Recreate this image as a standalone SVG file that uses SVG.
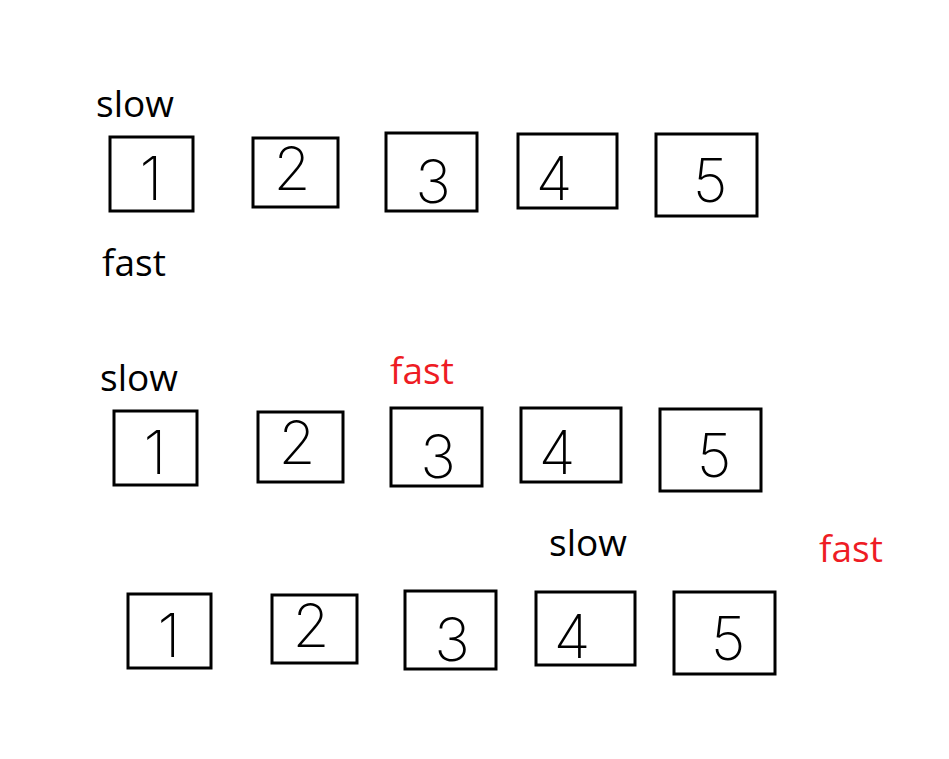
<svg xmlns="http://www.w3.org/2000/svg" width="949" height="759" viewBox="0 0 949 759">
<style>
.box{fill:none;stroke:#000;stroke-width:3}
.dig{font-family:Inter,"Liberation Sans",sans-serif;font-weight:200;font-size:60px;fill:#000;text-anchor:middle}
.lbl{font-family:"Open Sans","Noto Sans","Liberation Sans",sans-serif;font-size:37px;fill:#000}
.red{fill:#ee1c24}
</style>
<rect width="949" height="759" fill="#fff"/>
<g id="labels">
<text class="lbl" x="96" y="117">slow</text>
<text class="lbl" x="102" y="276">fast</text>
<text class="lbl" x="100" y="391">slow</text>
<text class="lbl red" x="390" y="384">fast</text>
<text class="lbl" x="549" y="556">slow</text>
<text class="lbl red" x="819" y="562">fast</text>
</g>
<g id="connectors"/>
<g id="r1n1" transform="translate(110,137)"><rect class="box" width="83" height="74"/><text class="dig" x="41" y="63">1</text></g>
<g id="r1n2" transform="translate(253,138)"><rect class="box" width="85" height="69"/><text class="dig" x="39" y="52">2</text></g>
<g id="r1n3" transform="translate(386,133)"><rect class="box" width="91" height="78"/><text class="dig" x="47" y="70">3</text></g>
<g id="r1n4" transform="translate(518,134)"><rect class="box" width="99" height="74"/><text class="dig" x="36" y="66">4</text></g>
<g id="r1n5" transform="translate(656,134)"><rect class="box" width="101" height="82"/><text class="dig" x="54" y="68">5</text></g>
<g id="r2n1" transform="translate(114,411)"><rect class="box" width="83" height="74"/><text class="dig" x="41" y="63">1</text></g>
<g id="r2n2" transform="translate(258,412)"><rect class="box" width="85" height="70"/><text class="dig" x="39" y="52">2</text></g>
<g id="r2n3" transform="translate(391,408)"><rect class="box" width="91" height="78"/><text class="dig" x="47" y="70">3</text></g>
<g id="r2n4" transform="translate(521,408)"><rect class="box" width="100" height="74"/><text class="dig" x="36" y="66">4</text></g>
<g id="r2n5" transform="translate(660,409)"><rect class="box" width="101" height="82"/><text class="dig" x="54" y="68">5</text></g>
<g id="r3n1" transform="translate(128,594)"><rect class="box" width="83" height="74"/><text class="dig" x="41" y="63">1</text></g>
<g id="r3n2" transform="translate(272,595)"><rect class="box" width="85" height="68"/><text class="dig" x="39" y="52">2</text></g>
<g id="r3n3" transform="translate(405,591)"><rect class="box" width="91" height="78"/><text class="dig" x="47" y="70">3</text></g>
<g id="r3n4" transform="translate(536,592)"><rect class="box" width="99" height="73"/><text class="dig" x="36" y="66">4</text></g>
<g id="r3n5" transform="translate(674,592)"><rect class="box" width="101" height="82"/><text class="dig" x="54" y="68">5</text></g>
</svg>
